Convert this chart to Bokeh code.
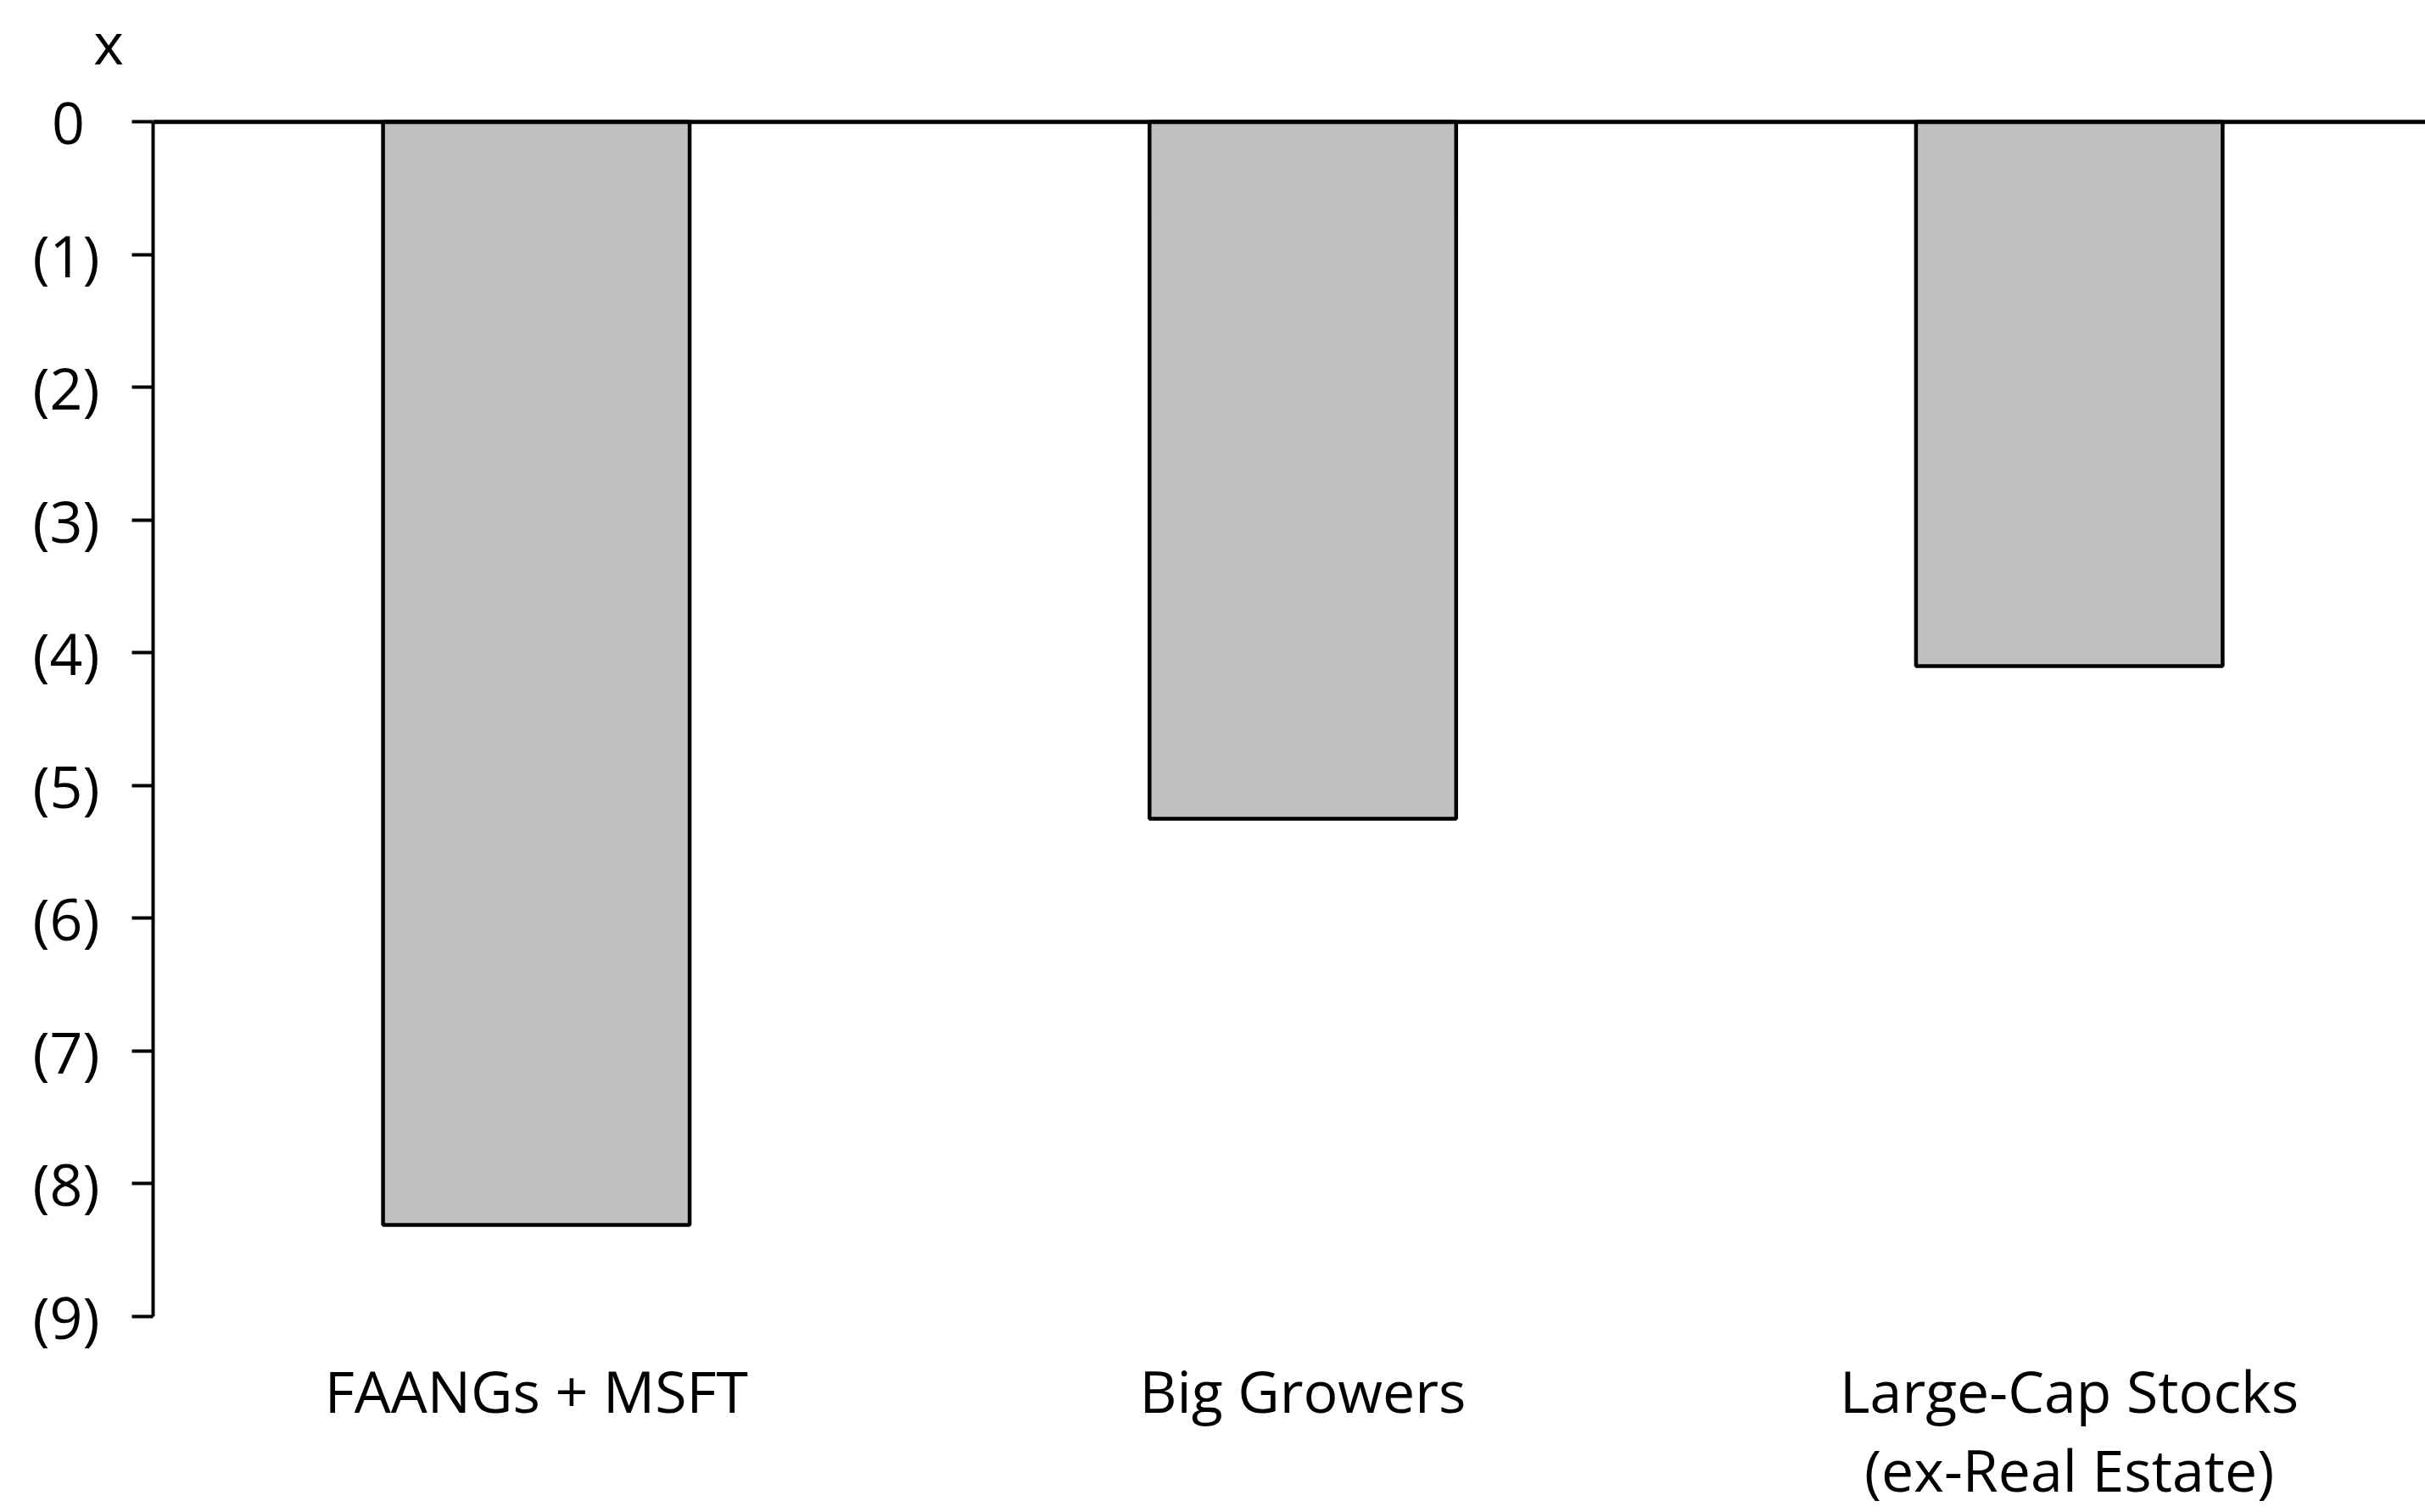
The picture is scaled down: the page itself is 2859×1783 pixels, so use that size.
from bokeh.plotting import figure
from bokeh.models import Range1d, FixedTicker, Span, Label
from bokeh.embed import file_html
from bokeh.resources import INLINE

# Data
categories = ["FAANGs + MSFT", "Big Growers", "Large-Cap Stocks\n(ex-Real Estate)"]
values = [-8.31, -5.25, -4.10]
tick_values = [0, -1, -2, -3, -4, -5, -6, -7, -8, -9]
tick_labels = ["0\u00a0", "(1)", "(2)", "(3)", "(4)", "(5)", "(6)", "(7)", "(8)", "(9)"]
unit_label = "x"

FONT = "Open Sans"
FONT_SIZE = "68px"

xs = [i + 0.5 for i in range(len(categories))]

p = figure(
    width=2859, height=1783,
    output_backend="svg", toolbar_location=None,
    x_range=Range1d(0, 2.9646), y_range=Range1d(-9, 0.02),
    min_border_left=180, min_border_right=0,
    min_border_top=140, min_border_bottom=231,
    x_axis_location="below",
)
p.background_fill_color = "white"
p.border_fill_color = "white"
p.outline_line_color = None
p.grid.grid_line_color = None

p.vbar(x=xs, top=0, bottom=values, width=0.4,
       fill_color="#c0c0c0", line_color="black", line_width=4.5)

# Zero line across the plot
p.add_layout(Span(location=0, dimension="width", line_color="black", line_width=5))

# Unit marker above the value axis
p.add_layout(Label(x=-0.058, y=0.6, text=unit_label, text_align="center",
                   text_baseline="alphabetic", text_font=FONT,
                   text_font_size=FONT_SIZE, text_color="black"), "above")

# Value axis
ya = p.yaxis[0]
ya.bounds = (-9, 0)
ya.ticker = FixedTicker(ticks=tick_values)
ya.major_label_overrides = dict(zip(tick_values, tick_labels))
ya.minor_tick_line_color = None
ya.major_tick_in = 0
ya.major_tick_out = 25
ya.major_tick_line_width = 4
ya.axis_line_width = 4
ya.major_label_standoff = 38
ya.major_label_text_font = FONT
ya.major_label_text_font_size = FONT_SIZE
ya.major_label_text_color = "black"

# Category axis
xa = p.xaxis[0]
xa.ticker = FixedTicker(ticks=xs)
xa.major_label_overrides = dict(zip(xs, categories))
xa.axis_line_color = None
xa.major_tick_line_color = None
xa.minor_tick_line_color = None
xa.major_label_standoff = 34
xa.major_label_text_font = FONT
xa.major_label_text_font_size = FONT_SIZE
xa.major_label_text_color = "black"
xa.major_label_text_line_height = 1.01

open("out.html", "w").write(file_html(p, INLINE))
